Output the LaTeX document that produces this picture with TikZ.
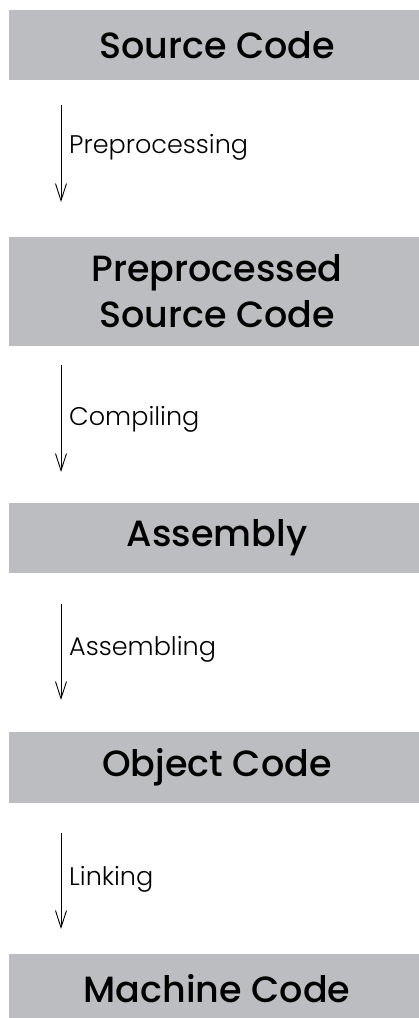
\documentclass[tikz,border=0pt]{standalone}
\usepackage{fontspec}
\setmainfont{Poppins}[UprightFont={* Medium}]
\newfontfamily\lblfont{Poppins}[UprightFont={* Light}]
\usetikzlibrary{arrows.meta}
\definecolor{boxgray}{RGB}{188,189,192}
\begin{document}
\begin{tikzpicture}[x=1pt,y=-1pt,
  stage/.style={fill=boxgray, draw=none, minimum width=416pt, inner sep=0pt, align=center, font=\fontsize{36.5}{46}\selectfont, text=black},
  flow/.style={draw=black, line width=0.9pt, -{Straight Barb[length=17pt,width=11pt,line width=0.9pt]}},
  lbl/.style={anchor=west, inner sep=0pt, font=\lblfont\fontsize{25.5}{30}\selectfont}
]
\useasboundingbox (0,0) rectangle (418,1018);
\node[stage, minimum height=70pt] (b1) at (217,45) {Source Code};
\node[stage, minimum height=109pt] (b2) at (217,291.5) {Preprocessed\\Source Code};
\node[stage, minimum height=70pt] (b3) at (217,538) {Assembly};
\node[stage, minimum height=71pt] (b4) at (217,767.5) {Object Code};
\node[stage, minimum height=70pt] (b5) at (217,989) {Machine Code};

\coordinate (a1s) at (61,105); \coordinate (a1e) at (61,202);
\coordinate (a2s) at (61,365); \coordinate (a2e) at (61,472);
\coordinate (a3s) at (61,604); \coordinate (a3e) at (61,700);
\coordinate (a4s) at (61,833); \coordinate (a4e) at (61,929);
\draw[flow] (a1s) -- (a1e);
\draw[flow] (a2s) -- (a2e);
\draw[flow] (a3s) -- (a3e);
\draw[flow] (a4s) -- (a4e);
\node[lbl] (l1) at (69,147) {Preprocessing};
\node[lbl] (l2) at (69,419) {Compiling};
\node[lbl] (l3) at (69,649) {Assembling};
\node[lbl] (l4) at (69,879) {Linking};
\end{tikzpicture}
\end{document}
